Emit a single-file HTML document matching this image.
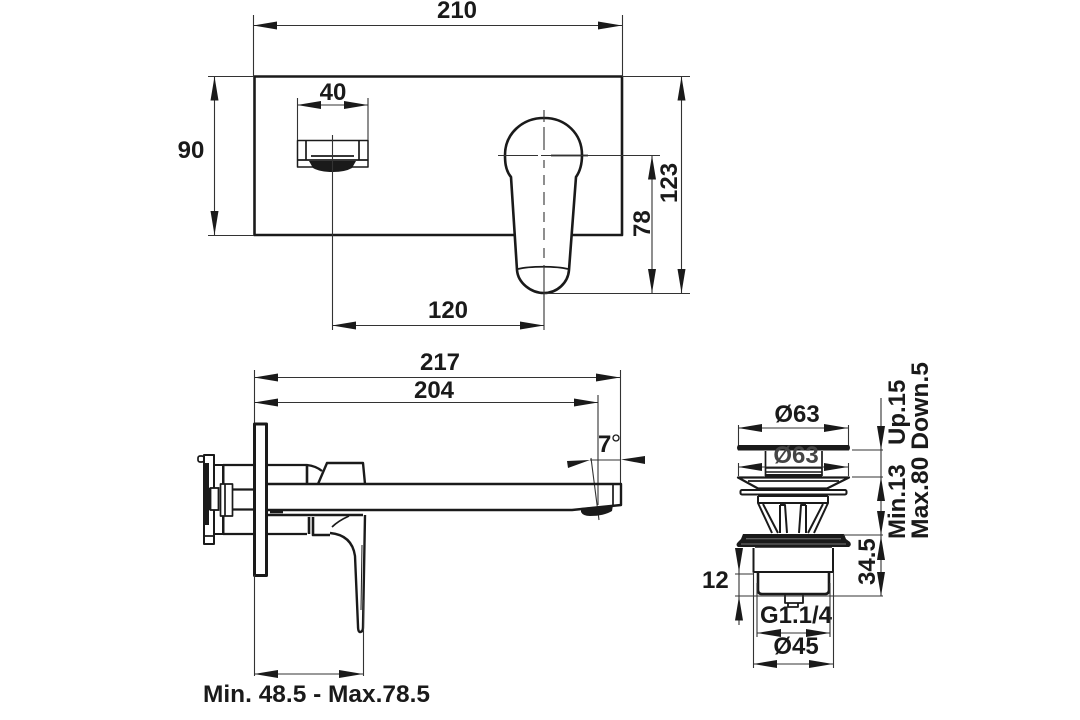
<!DOCTYPE html>
<html lang="en"><head><meta charset="utf-8"><title>Mixer dimensions</title>
<style>
html,body{margin:0;padding:0;background:#fff}
svg{display:block}
text{font-family:"Liberation Sans",sans-serif;font-weight:700;font-size:24px;fill:#1a1a1a}
.d{stroke:#333;stroke-width:1.1;fill:none}
.o{stroke:#1a1a1a;stroke-width:2.6;fill:none;stroke-linejoin:round}
.m{stroke:#1a1a1a;stroke-width:1.7;fill:none;stroke-linejoin:round}
.b{fill:#1a1a1a}
</style></head><body>
<svg width="1080" height="720" viewBox="0 0 1080 720" xmlns="http://www.w3.org/2000/svg">
<defs><polygon id="a" points="0,0 -24,-4 -24,4" fill="#1a1a1a"/></defs>

<!-- TOP VIEW -->
<rect class="o" x="254.500" y="76.500" width="367.500" height="158.500"/>
<path class="o" d="M511 177C505 170 505 160 505 155C505 134 522 118 544 118C566 118 582 134 582 155C582 162 581 170 576 177L569 270C568 283 557 293 544 293C531 293 518 283 517 270Z" style="fill:#fff"/>
<path class="m" d="M518 269C530 266 556 266 568 269"/>
<rect class="m" x="297.500" y="140.500" width="70.500" height="26.500" style="stroke-width:1.500"/>
<path class="m" d="M306 140V160M359 140V160M297 160H368"/>
<path class="m" d="M311 156H354"/>
<path class="b" d="M309 161H356L352 168Q345 172 333 172Q320 172 313 168Z"/>

<path class="d" d="M544 110V122M544 127V150M544 160V168M544 175V185M544 192V205M544 212V222M544 228V240M544 248V258M544 265V300"/>
<path class="d" d="M498 155.500H538M541 155.500H547M551 155.500H588M590 155.500H652"/>
<path d="M551 155.500H588" stroke="#1a1a1a" stroke-width="1.800"/>

<!-- top dims -->
<path class="d" d="M253.500 15V76M622.500 15V76M253 25.500H622"/>
<use href="#a" transform="translate(253,25.500) rotate(180)"/><use href="#a" transform="translate(622,25.500)"/>
<text x="457" y="18" text-anchor="middle">210</text>

<path class="d" d="M208 76.500H254M208 235.500H254M214.500 76V235"/>
<use href="#a" transform="translate(214.500,76.500) rotate(-90)"/><use href="#a" transform="translate(214.500,235) rotate(90)"/>
<text x="191" y="158" text-anchor="middle">90</text>

<path class="d" d="M622 76.500H690M544 293.500H690M544 155.500H660M681.500 76V293M652 155V293"/>
<use href="#a" transform="translate(681.500,76.500) rotate(-90)"/><use href="#a" transform="translate(681.500,293) rotate(90)"/>
<use href="#a" transform="translate(652,155.500) rotate(-90)"/><use href="#a" transform="translate(652,293) rotate(90)"/>
<text transform="translate(677,203) rotate(-90)">123</text>
<text transform="translate(650,237) rotate(-90)">78</text>

<path class="d" d="M297.500 98V140M368 98V140M297 105H368"/>
<use href="#a" transform="translate(297,105) rotate(180)"/><use href="#a" transform="translate(368,105)"/>
<text x="333" y="100" text-anchor="middle">40</text>

<path class="d" d="M332.500 135V330M544 293V330M332 325.500H544"/>
<use href="#a" transform="translate(332,325.500) rotate(180)"/><use href="#a" transform="translate(544,325.500)"/>
<text x="448" y="318" text-anchor="middle">120</text>

<!-- SIDE VIEW dims -->
<path class="d" d="M254.500 370V424M620.500 370V484M598 395V505M254 377.500H620M254 402.500H598"/>
<use href="#a" transform="translate(254,377.500) rotate(180)"/><use href="#a" transform="translate(620,377.500)"/>
<use href="#a" transform="translate(254,402.500) rotate(180)"/><use href="#a" transform="translate(598,402.500)"/>
<text x="440" y="370" text-anchor="middle">217</text>
<text x="434" y="398" text-anchor="middle">204</text>
<path class="d" d="M590 460H621M591 458L599 520"/>
<polygon class="b" points="590,460 567,461 568,468"/><polygon class="b" points="621,459.500 645,456 645,464"/>
<text x="598" y="452">7</text>
<circle cx="616" cy="438" r="3" fill="none" stroke="#1a1a1a" stroke-width="1.300"/>

<!-- SIDE VIEW body -->
<rect class="o" x="254.500" y="424" width="12" height="151.500" style="stroke-width:3"/>
<path class="m" style="stroke-width:2.200" d="M267 465H307Q316 466 322 471M223 465H254M223 534H254M267 534H307"/>
<path class="o" d="M307 465V483M309 517V534M313 517V535H330"/>
<path class="o" style="stroke-width:2.400" d="M318 484L327 463H363L365 484"/>
<path class="o" style="stroke-width:2.400" d="M267 484H621V505L572 510H267"/>
<path class="o" style="stroke-width:2.400" d="M267 515H363"/>
<path class="m" style="stroke-width:2.500" d="M270 512H283"/>
<path class="m" d="M613 484V506"/>
<path class="b" d="M581 508L613 505L612 511Q604 516 590 516Q583 516 581 512Z"/>
<path class="m" d="M332 527Q338 521 349 516"/>
<path class="o" style="stroke-width:2.400" d="M330 533Q352 535 355 556L358 626Q358 632 360 632Q363 632 363 627L365 515"/>
<path class="m" style="stroke-width:1" d="M362 545L361 610"/>

<rect class="m" x="204" y="455" width="10" height="89" style="stroke-width:2"/>
<path class="b" d="M204 463H209V488H212V510H209V525H204Z"/>
<rect x="205" y="500" width="3" height="22" class="b"/>
<rect x="210.500" y="488" width="8" height="22" fill="#fff" stroke="#1a1a1a" stroke-width="1.800"/>
<path class="m" style="stroke-width:2" d="M214 465H223V534H214"/>
<rect x="222" y="465" width="2.500" height="69" class="b"/>
<rect class="m" x="220.500" y="484" width="12" height="32" style="fill:#fff"/>
<path class="m" d="M225 484V516"/>
<path class="m" style="stroke-width:2.200" d="M233 489.500H254M233 509.500H254"/>
<rect class="m" x="198" y="456" width="6" height="6" rx="2"/>
<path class="m" d="M204 455H214V463M204 536H214"/>

<!-- lower dim -->
<path class="d" d="M254.500 575V676M363.500 600V676M254 674H363"/>
<use href="#a" transform="translate(254,674) rotate(180)"/><use href="#a" transform="translate(363,674)"/>
<text x="203" y="702" textLength="227" lengthAdjust="spacingAndGlyphs">Min. 48.5 - Max.78.5</text>

<!-- WASTE -->
<path class="d" d="M738.500 425V447M848.500 425V447M738 428H848"/>
<use href="#a" transform="translate(738,428) rotate(180)"/><use href="#a" transform="translate(848,428)"/>
<text x="797" y="422" text-anchor="middle">Ø63</text>
<path class="b" d="M738 445H849Q851 448 849 450.500H738Q736 448 738 445Z"/>
<path class="m" d="M765.500 451V476M822 451V476"/>
<text x="796" y="463" text-anchor="middle" style="fill:#444">Ø63</text>
<path class="d" d="M738.500 463V476M848.500 463V476M738 467H848"/>
<use href="#a" transform="translate(738,467) rotate(180)"/><use href="#a" transform="translate(848,467)"/>
<path class="m" style="stroke-width:1.400" d="M765 468H822M765 472H822"/>
<path class="b" d="M765 474H822V477H765Z"/>
<path class="o" style="stroke-width:2.200" d="M738 477.500H849L827 488.500H758Z"/>
<path class="m" d="M748 481H839"/>
<rect class="m" x="740.500" y="490" width="106" height="4.500" rx="1.500" style="stroke-width:2"/>
<path class="m" style="stroke-width:2" d="M758 496V503L772 533M828 496V503L814 533M758 496H828M758 503H828"/>
<path class="m" style="stroke-width:2" d="M763 504L778 533M823 504L808 533M780 505H785L787 533M806 505H801L799 533M780 505V533M806 505V533"/>
<path class="b" d="M743 534H844L846 539L850 542Q852 545 849 547H738Q735 545 738 542L741 539Z"/>
<path d="M746 538.700H841M741 544H846" stroke="#777" stroke-width="1"/>
<path class="o" style="stroke-width:2" d="M753.500 548V572H833V548"/>
<path class="m" style="stroke-width:1.500" d="M755 547H832"/>
<path class="o" d="M758 572V590Q758 594 762 594H825Q829 594 829 590V572"/>
<path class="m" style="stroke-width:1.800" d="M785 595V603H803V595M788 603V607H798V603"/>

<text x="796" y="623" text-anchor="middle">G1.1/4</text>
<text x="796" y="654" text-anchor="middle">Ø45</text>
<path class="d" d="M757 583V637M830 583V637M757 633H830"/>
<use href="#a" transform="translate(757,633) rotate(180)"/><use href="#a" transform="translate(830,633)"/>
<path class="d" d="M753.500 572V668M833.500 572V668M753 664H833"/>
<use href="#a" transform="translate(753,664) rotate(180)"/><use href="#a" transform="translate(833,664)"/>

<path class="d" d="M739 548V625M735 574H753M735 596H883"/>
<use href="#a" transform="translate(739,572) rotate(90)"/><use href="#a" transform="translate(739,596.500) rotate(-90)"/>
<text x="702" y="588">12</text>

<path class="d" d="M881 398V596M852 450H883M852 477H883M843 535H883"/>
<use href="#a" transform="translate(881,450) rotate(90)"/><use href="#a" transform="translate(881,477) rotate(-90)"/>
<use href="#a" transform="translate(881,535) rotate(90)"/><use href="#a" transform="translate(881,536) rotate(-90)"/>
<use href="#a" transform="translate(881,596) rotate(90)"/>
<text transform="translate(905,445) rotate(-90)">Up.15</text>
<text transform="translate(905,539) rotate(-90)">Min.13</text>
<text transform="translate(928,539) rotate(-90)" textLength="177" lengthAdjust="spacingAndGlyphs">Max.80 Down.5</text>
<text transform="translate(875,585) rotate(-90)">34.5</text>
</svg>
</body></html>
